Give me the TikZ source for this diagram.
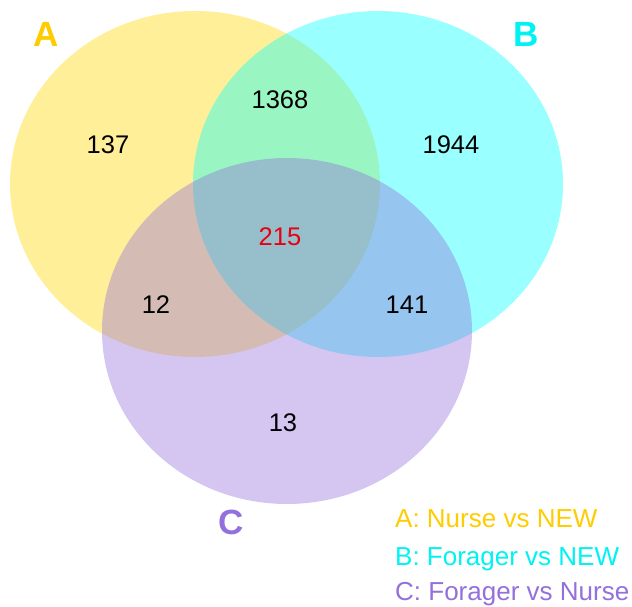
\documentclass[tikz,border=0pt]{standalone}
\usepackage{fontspec}
\setmainfont{Liberation Sans}
\definecolor{setA}{HTML}{FFD700}
\definecolor{setB}{HTML}{00FFFF}
\definecolor{setC}{HTML}{9370DB}
\definecolor{labA}{HTML}{FFCC00}
\definecolor{labB}{HTML}{00F2F2}
\definecolor{labC}{HTML}{9370DB}
\definecolor{core}{HTML}{E60012}
\tikzset{
  setfill/.style={fill=#1, fill opacity=0.4},
  count/.style={font=\fontsize{25.5}{30}\selectfont, text=black, inner sep=0pt},
  setname/.style={font=\fontsize{35}{40}\selectfont\bfseries, text=#1, inner sep=0pt},
  legend/.style={font=\fontsize{26}{30}\selectfont, text=#1, inner sep=0pt, anchor=base west}
}
\begin{document}
\begin{tikzpicture}[x=1pt,y=-1pt]
\useasboundingbox (0,0) rectangle (632,607);
\fill[setfill=setA] (195,184) ellipse [x radius=185, y radius=173];
\fill[setfill=setB] (378,184) ellipse [x radius=185, y radius=173];
\fill[setfill=setC] (287,331) ellipse [x radius=185, y radius=173];
\node[setname=labA] (nA) at (46,34) {A};
\node[setname=labB] (nB) at (526,34) {B};
\node[setname=labC] (nC) at (231,522) {C};
\node[count] (n137) at (108,145) {137};
\node[count] (n1368) at (280,100) {1368};
\node[count] (n1944) at (451,145) {1944};
\node[count, text=core] (n215) at (280,237) {215};
\node[count] (n12) at (156,305) {12};
\node[count] (n141) at (407,305) {141};
\node[count] (n13) at (283,423) {13};
\node[legend=labA] (lA) at (395,527) {A: Nurse vs NEW};
\node[legend=labB] (lB) at (395,565) {B: Forager vs NEW};
\node[legend=labC] (lC) at (395,600) {C: Forager vs Nurse};
\end{tikzpicture}
\end{document}
